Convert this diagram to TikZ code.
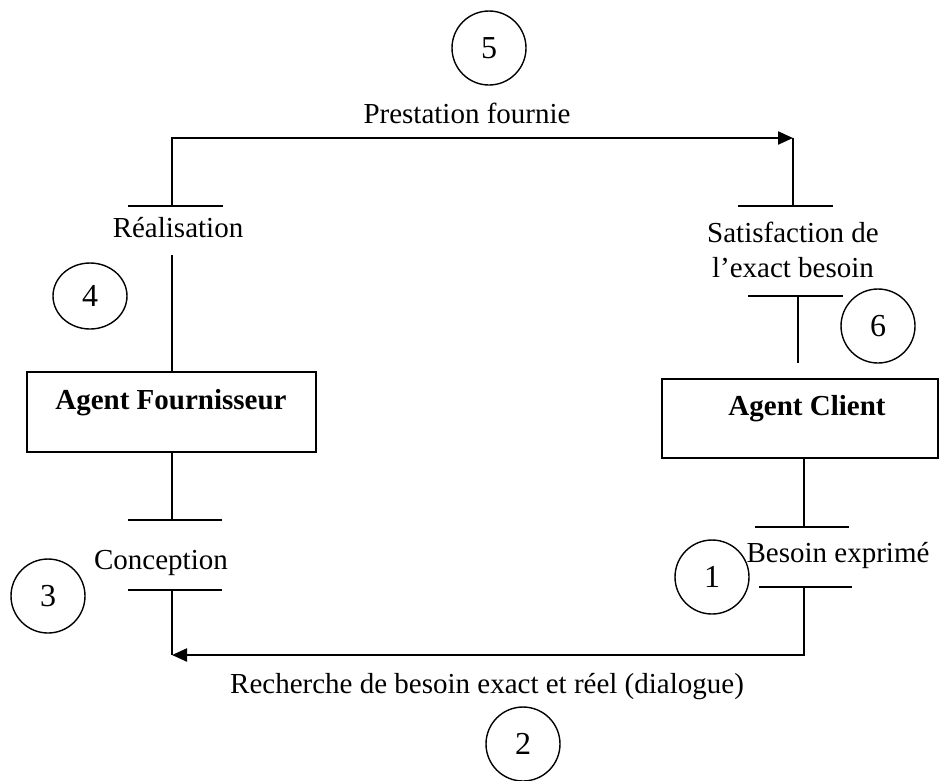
\documentclass[tikz,border=0pt]{standalone}
\usepackage{fontspec}
\setmainfont{Liberation Serif}
\usetikzlibrary{arrows.meta,shapes.geometric}
\begin{document}
\begin{tikzpicture}[x=1pt,y=-1pt,
  txt/.style={inner sep=0pt,font=\fontsize{29}{35}\selectfont},
  num/.style={draw,circle,line width=1.4pt,inner sep=0pt,minimum size=74pt,font=\fontsize{32}{38}\selectfont},
  agentbox/.style={draw,line width=2pt,inner sep=0pt},
  link/.style={line width=1.5pt},
  bar/.style={line width=1.5pt},
  flow/.style={line width=2.2pt,-{Triangle[length=15pt,width=13pt]}}]
\useasboundingbox (0,0) rectangle (941,780);
% boxes
\node[agentbox,minimum width=289pt,minimum height=80pt] (fbox) at (171.5,412) {};
\node[txt,font=\fontsize{29}{35}\selectfont\bfseries] (ftext) at (171,403) {Agent Fournisseur};
\node[agentbox,minimum width=276pt,minimum height=79pt] (cbox) at (800,418.5) {};
\node[txt,font=\fontsize{29}{35}\selectfont\bfseries] (ctext) at (807,409) {Agent Client};
% circles
\node[num] (c1) at (712,577) {1};
\node[num] (c2) at (523,744) {2};
\node[num] (c3) at (48,596) {3};
\node[num,ellipse,minimum width=74pt,minimum height=66pt,inner sep=0pt] (c4) at (90,296) {4};
\node[num] (c5) at (489,48) {5};
\node[num] (c6) at (878,326) {\raisebox{-7pt}{6}};
% labels
\node[txt] (lprest) at (467,113) {Prestation fournie};
\node[txt] (lreal) at (178,228) {Réalisation};
\node[txt,align=center] (lsat) at (793,250) {Satisfaction de\\l’exact besoin};
\node[txt] (lconc) at (161,563) {Conception};
\node[txt] (lbes) at (838,555) {Besoin exprimé};
\node[txt] (lrech) at (487,687) {Recherche de besoin exact et réel (dialogue)};
% bar coordinates
\coordinate (rbarL) at (172,206);
\coordinate (rbarL2) at (172,255);
\coordinate (cbarT) at (172,520);
\coordinate (cbarB) at (172,590);
\coordinate (fbot) at (172,655);
\coordinate (stop) at (793,138);
\coordinate (sbar) at (793,206);
\coordinate (sbar2) at (798,296);
\coordinate (sbar2e) at (798,363);
\coordinate (bbarT) at (804,527);
\coordinate (bbarB) at (804,587);
\coordinate (cbot) at (804,655);
% bars
\draw[bar] (128,206) -- (223,206);
\draw[bar] (738,206) -- (833,206);
\draw[bar] (748,296) -- (843,296);
\draw[bar] (128,520) -- (222,520);
\draw[bar] (128,590) -- (222,590);
\draw[bar] (755,527) -- (849,527);
\draw[bar] (759,587) -- (852,587);
% connectors
\draw[flow] (rbarL) |- (stop);
\draw[link] (stop) -- (sbar);
\draw[link] (rbarL2) -- (fbox.north -| rbarL2);
\draw[link] (fbox.south -| cbarT) -- (cbarT);
\draw[link] (cbarB) -- (fbot);
\draw[link] (sbar2) -- (sbar2e);
\draw[link] (cbox.south -| bbarT) -- (bbarT);
\draw[flow] (bbarB) |- (fbot);
\end{tikzpicture}
\end{document}
